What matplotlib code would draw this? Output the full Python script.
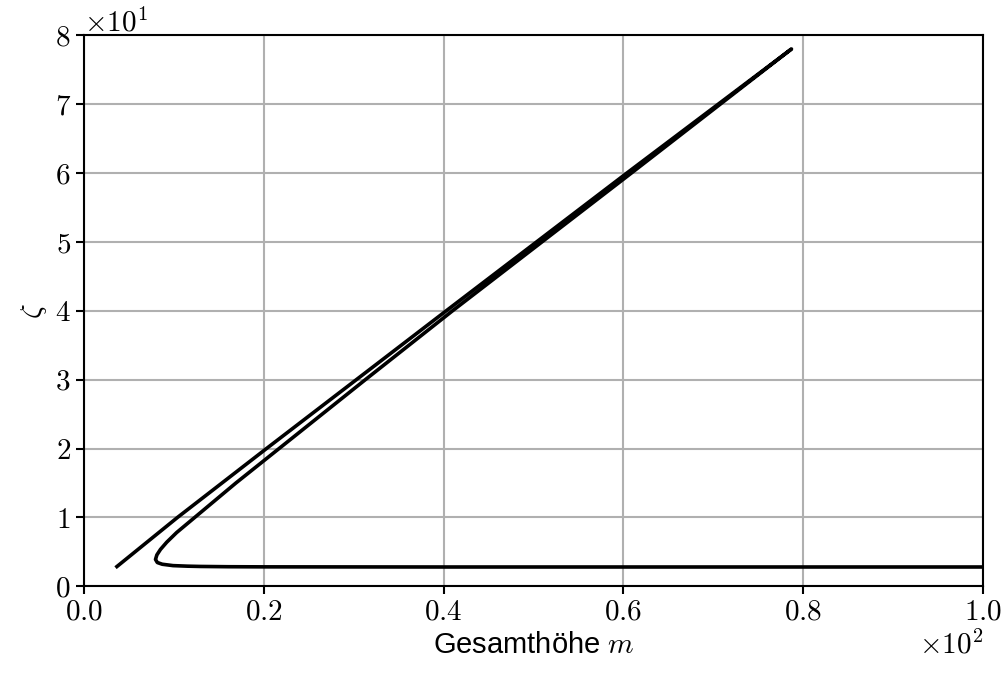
import numpy as np
import matplotlib
matplotlib.use("Agg")
import matplotlib.pyplot as plt
from matplotlib.ticker import ScalarFormatter

# curve (x in m, y = zeta)
hoehe = [3.5, 10.4, 20.3, 30.3, 40.3, 60.4, 78.7,
         60.9, 41.0, 31.3, 21.7, 16.9, 12.5, 10.3, 9.2, 8.5, 8.1, 7.95, 8.15, 8.7,
         9.9, 11.5, 12.9, 16.0, 20.0, 40.0, 70.0, 100.0]
zeta = [2.7, 10.0, 20.0, 30.0, 40.0, 60.0, 78.0,
        60.0, 40.0, 30.0, 20.0, 15.0, 10.2, 7.8, 6.4, 5.35, 4.55, 3.9, 3.45, 3.2,
        3.0, 2.92, 2.88, 2.84, 2.82, 2.8, 2.8, 2.8]

plt.rcParams.update({'font.size': 21,
                     'font.family': ['Liberation Sans', 'DejaVu Sans'],
                     'mathtext.fontset': 'cm'})

fig = plt.figure(figsize=(10.03, 6.77), dpi=100, facecolor='white')
ax = fig.add_axes([0.0838, 0.134, 0.8962, 0.814])

ax.plot(hoehe, zeta, color='black', lw=2.6, solid_capstyle='butt')

ax.set_xlim(0, 100)
ax.set_ylim(0, 80)
ax.grid(True, color='#b0b0b0', lw=1.5)
ax.set_axisbelow(True)

for axis in (ax.xaxis, ax.yaxis):
    fmt = ScalarFormatter(useMathText=True)
    fmt.set_powerlimits((0, 0))
    axis.set_major_formatter(fmt)
    axis.get_offset_text().set_fontfamily('cmr10')
ax.set_xticks(np.arange(0, 101, 20))
ax.set_yticks(np.arange(0, 81, 10))

ax.tick_params(width=1.5, length=6, labelfontfamily='cmr10')
for s in ax.spines.values():
    s.set_linewidth(1.5)

ax.set_xlabel(r'Gesamthöhe $m$')
ax.set_ylabel(r'$\zeta$')

fig.savefig('out.png', dpi=100)
